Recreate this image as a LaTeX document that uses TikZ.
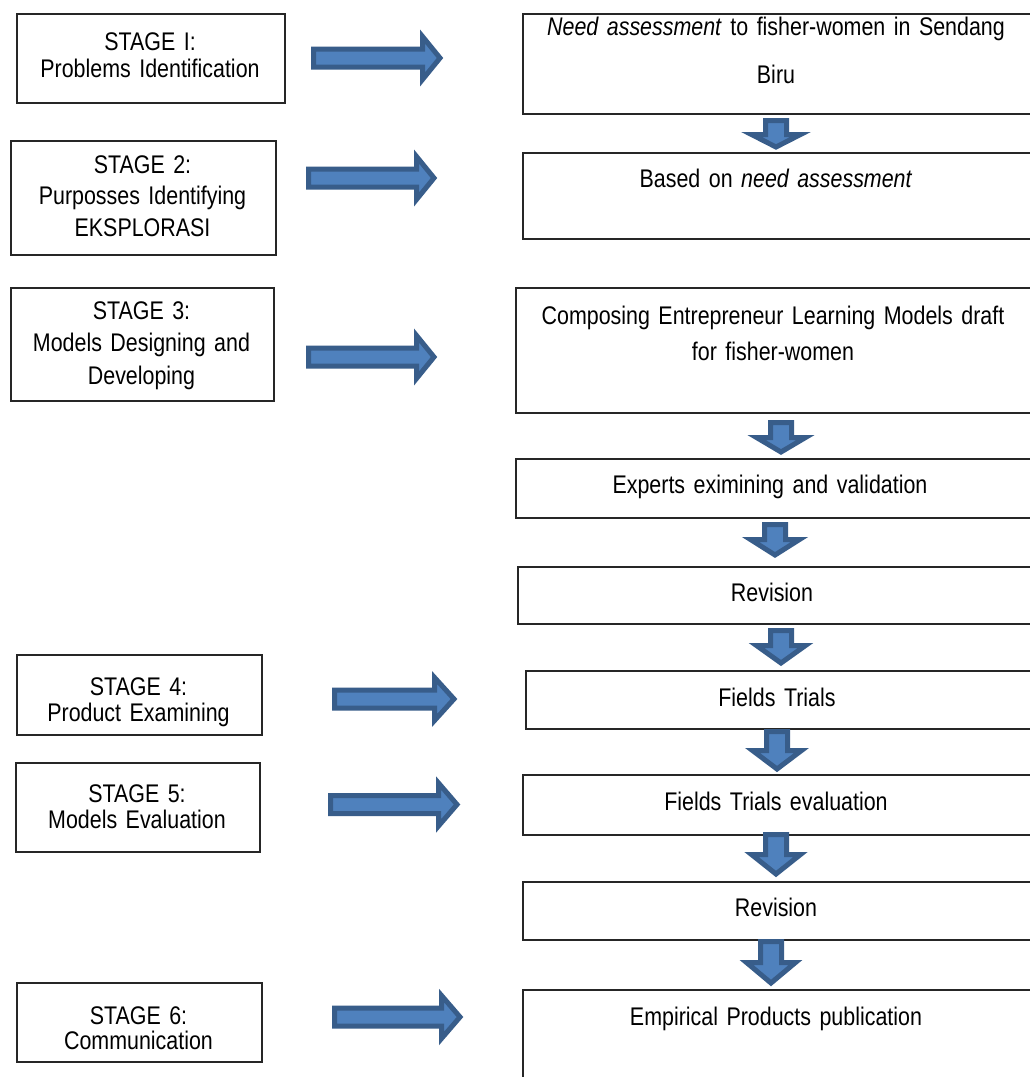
\documentclass[tikz,border=0pt]{standalone}
\usepackage{fontspec}
\setmainfont{Liberation Sans}[FakeStretch=0.84,WordSpace=0.75]
\usetikzlibrary{calc}
\definecolor{arrowfill}{HTML}{4F81BD}
\definecolor{arrowline}{HTML}{385D8A}
\newcommand{\blockright}[3]{\draw[barrow] ($(#1)+(0,-9)$) -- ($(#2)+(-#3,-9)$) -- ($(#2)+(-#3,-21.5)$) -- (#2) -- ($(#2)+(-#3,21.5)$) -- ($(#2)+(-#3,9)$) -- ($(#1)+(0,9)$) -- cycle;}
\newcommand{\blockdown}[3]{\draw[barrow] ($(#1)+(-10.5,0)$) -- ($(#2)+(-10.5,-#3)$) -- ($(#2)+(-24.5,-#3)$) -- (#2) -- ($(#2)+(24.5,-#3)$) -- ($(#2)+(10.5,-#3)$) -- ($(#1)+(10.5,0)$) -- cycle;}
\begin{document}
\begin{tikzpicture}[x=1pt,y=-1pt,
  box/.style={draw=black!85, line width=1.5pt, inner sep=0pt, anchor=north west},
  txt/.style={font=\fontsize{25.5}{#1}\selectfont, text width=500pt, align=center, anchor=base, inner sep=0pt},
  txt/.default=27,
  barrow/.style={fill=arrowfill, draw=arrowline, line width=5pt, line join=miter}]
\useasboundingbox (0,0) rectangle (1030,1077);
\clip (0,0) rectangle (1030,1077);
\fill[white] (0,0) rectangle (1030,1077);
% left stage boxes
\node[box, minimum width=268pt, minimum height=89pt] (s1) at (16,13) {};
\node[box, minimum width=265pt, minimum height=114pt] (s2) at (10,140) {};
\node[box, minimum width=263pt, minimum height=113pt] (s3) at (10,287) {};
\node[box, minimum width=245pt, minimum height=80pt] (s4) at (16,654) {};
\node[box, minimum width=244pt, minimum height=89pt] (s5) at (15,762) {};
\node[box, minimum width=245pt, minimum height=79pt] (s6) at (16,982) {};
\node[txt] (t1) at (150,50) {STAGE I:\\Problems Identification};
\node[txt=31.5] (t2) at (142.5,173) {STAGE 2:\\Purposses Identifying\\EKSPLORASI};
\node[txt=32.5] (t3) at (141.5,319) {STAGE 3:\\Models Designing and\\Developing};
\node[txt=26] (t4) at (138.5,695) {STAGE 4:\\Product Examining};
\node[txt=26] (t5) at (137,802) {STAGE 5:\\Models Evaluation};
\node[txt=25] (t6) at (138.5,1024) {STAGE 6:\\Communication};
% right boxes
\node[box, minimum width=520pt, minimum height=100pt] (r1) at (522,13) {};
\node[box, minimum width=520pt, minimum height=86pt] (r2) at (522,152) {};
\node[box, minimum width=530pt, minimum height=125pt] (r3) at (515,287) {};
\node[box, minimum width=530pt, minimum height=59pt] (r4) at (515,458) {};
\node[box, minimum width=530pt, minimum height=57pt] (r5) at (517,566) {};
\node[box, minimum width=520pt, minimum height=58pt] (r6) at (525,670) {};
\node[box, minimum width=520pt, minimum height=60pt] (r7) at (522,774) {};
\node[box, minimum width=520pt, minimum height=58pt] (r8) at (522,881) {};
\node[box, minimum width=520pt, minimum height=120pt] (r9) at (522,989) {};
\node[txt=48] (u1) at (776,35) {\textit{Need assessment} to fisher-women in Sendang\\Biru};
\node[txt] (u2) at (776,187) {Based on \textit{need assessment}};
\node[txt=36] (u3) at (773,324) {Composing Entrepreneur Learning Models draft\\for fisher-women};
\node[txt] (u4) at (770,493) {Experts eximining and validation};
\node[txt] (u5) at (772,601) {Revision};
\node[txt] (u6) at (777,706) {Fields Trials};
\node[txt] (u7) at (776,810) {Fields Trials evaluation};
\node[txt] (u8) at (776,916) {Revision};
\node[txt] (u9) at (776,1025) {Empirical Products publication};
% horizontal block arrows
\coordinate (h1s) at (313.5,58);   \coordinate (h1e) at (440,58);
\coordinate (h2s) at (308.5,178);  \coordinate (h2e) at (434,178);
\coordinate (h3s) at (308.5,357);  \coordinate (h3e) at (434,357);
\coordinate (h4s) at (334.5,699);  \coordinate (h4e) at (454,699);
\coordinate (h5s) at (330.5,804.5);\coordinate (h5e) at (457,804.5);
\coordinate (h6s) at (334.5,1017); \coordinate (h6e) at (460,1017);
\blockright{h1s}{h1e}{17.5}
\blockright{h2s}{h2e}{17.5}
\blockright{h3s}{h3e}{17.5}
\blockright{h4s}{h4e}{19.5}
\blockright{h5s}{h5e}{18.5}
\blockright{h6s}{h6e}{18.5}
% vertical block arrows
\coordinate (d1s) at (776,120.5); \coordinate (d1e) at (776,147);
\coordinate (d2s) at (781,422.5); \coordinate (d2e) at (781,452);
\coordinate (d3s) at (775,524.5); \coordinate (d3e) at (775,555);
\coordinate (d4s) at (781,630.5); \coordinate (d4e) at (781,663);
\coordinate (d5s) at (777,731.5); \coordinate (d5e) at (777,769);
\coordinate (d6s) at (776,834.5); \coordinate (d6e) at (776,874);
\coordinate (d7s) at (771,941.5); \coordinate (d7e) at (771,983);
\blockdown{d1s}{d1e}{12.5}
\blockdown{d2s}{d2e}{14.5}
\blockdown{d3s}{d3e}{15.5}
\blockdown{d4s}{d4e}{17.5}
\blockdown{d5s}{d5e}{18.5}
\blockdown{d6s}{d6e}{19.5}
\blockdown{d7s}{d7e}{20.5}
\end{tikzpicture}
\end{document}
